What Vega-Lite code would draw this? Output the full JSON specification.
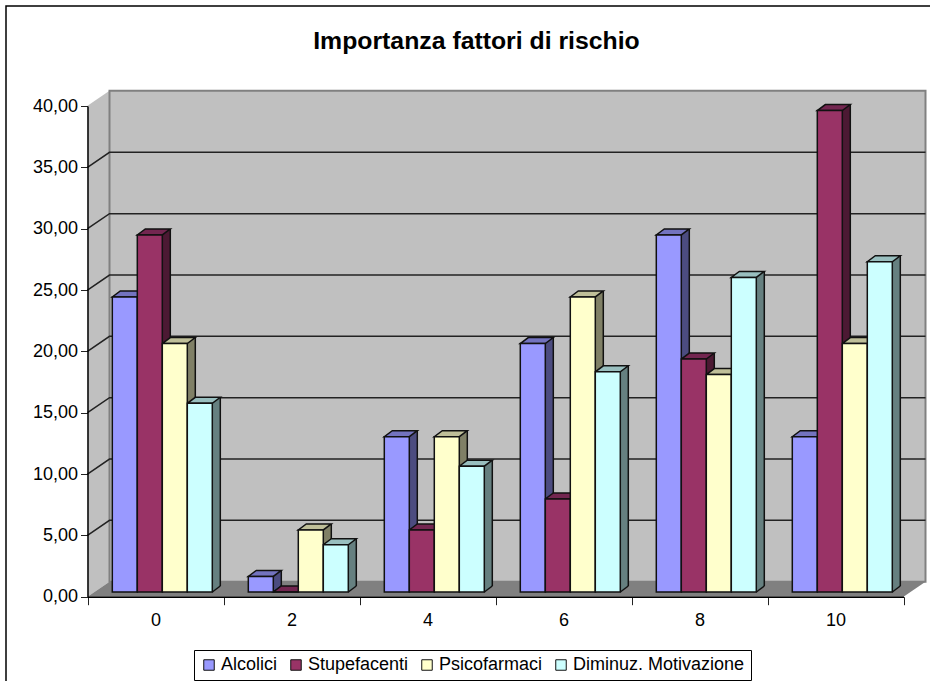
{
  "$schema": "https://vega.github.io/schema/vega-lite/v6.json",
  "width": 927,
  "height": 678,
  "autosize": "none",
  "padding": {"left": 6, "top": 6, "right": -3, "bottom": -3},
  "background": "white",
  "config": {
    "view": {"stroke": "black", "strokeWidth": 1.5},
    "font": "Liberation Sans"
  },
  "title": {
    "text": "Importanza fattori di rischio",
    "font": "Liberation Sans",
    "fontSize": 24.8,
    "fontWeight": "bold",
    "color": "black",
    "anchor": "middle",
    "offset": -48,
    "dx": 7
  },
  "datasets": {
    "rischio": [
      {"ora": "0", "fattore": "Alcolici", "valore": 24.05},
      {"ora": "0", "fattore": "Stupefacenti", "valore": 29.11},
      {"ora": "0", "fattore": "Psicofarmaci", "valore": 20.25},
      {"ora": "0", "fattore": "Diminuz. Motivazione", "valore": 15.38},
      {"ora": "2", "fattore": "Alcolici", "valore": 1.27},
      {"ora": "2", "fattore": "Stupefacenti", "valore": 0},
      {"ora": "2", "fattore": "Psicofarmaci", "valore": 5.06},
      {"ora": "2", "fattore": "Diminuz. Motivazione", "valore": 3.85},
      {"ora": "4", "fattore": "Alcolici", "valore": 12.66},
      {"ora": "4", "fattore": "Stupefacenti", "valore": 5.06},
      {"ora": "4", "fattore": "Psicofarmaci", "valore": 12.66},
      {"ora": "4", "fattore": "Diminuz. Motivazione", "valore": 10.26},
      {"ora": "6", "fattore": "Alcolici", "valore": 20.25},
      {"ora": "6", "fattore": "Stupefacenti", "valore": 7.59},
      {"ora": "6", "fattore": "Psicofarmaci", "valore": 24.05},
      {"ora": "6", "fattore": "Diminuz. Motivazione", "valore": 17.95},
      {"ora": "8", "fattore": "Alcolici", "valore": 29.11},
      {"ora": "8", "fattore": "Stupefacenti", "valore": 18.99},
      {"ora": "8", "fattore": "Psicofarmaci", "valore": 17.72},
      {"ora": "8", "fattore": "Diminuz. Motivazione", "valore": 25.64},
      {"ora": "10", "fattore": "Alcolici", "valore": 12.66},
      {"ora": "10", "fattore": "Stupefacenti", "valore": 39.24},
      {"ora": "10", "fattore": "Psicofarmaci", "valore": 20.25},
      {"ora": "10", "fattore": "Diminuz. Motivazione", "valore": 26.92}
    ],
    "griglia": [
      {"livello": 5}, {"livello": 10}, {"livello": 15}, {"livello": 20},
      {"livello": 25}, {"livello": 30}, {"livello": 35}
    ],
    "origine": [{"livello": 0}]
  },
  "data": {"name": "rischio"},
  "encoding": {
    "x": {
      "field": "ora",
      "type": "ordinal",
      "scale": {
        "domain": ["0", "2", "4", "6", "8", "10"],
        "range": [81.5, 897.5],
        "paddingInner": 0,
        "paddingOuter": 0
      },
      "axis": {
        "title": null,
        "labelAngle": 0,
        "labelFont": "Liberation Sans",
        "labelFontSize": 18,
        "labelColor": "black",
        "labelPadding": 7,
        "tickBand": "extent",
        "tickSize": 8,
        "tickColor": "#222",
        "domainColor": "black",
        "domainWidth": 1.5,
        "offset": -87.3,
        "zindex": 1
      }
    }
  },
  "layer": [
    {
      "data": {"name": "origine"},
      "mark": {"type": "point", "filled": true, "opacity": 1, "size": 4, "fill": "#C0C0C0", "shape": "M0,0L22,-15L22,-506L0,-491Z"},
      "encoding": {
        "x": {"datum": "0", "type": "ordinal", "bandPosition": 0},
        "y": {
          "field": "livello",
          "type": "quantitative",
          "scale": {"domain": [0, 40], "range": [590.7, 100], "nice": false, "zero": false},
          "axis": {
            "title": null,
            "values": [0, 5, 10, 15, 20, 25, 30, 35, 40],
            "labelExpr": "replace(format(datum.value, '.2f'), '.', ',')",
            "labelFont": "Liberation Sans",
            "labelFontSize": 18,
            "labelColor": "black",
            "labelPadding": 3,
            "tickSize": 7,
            "tickColor": "#222",
            "domainColor": "black",
            "domainWidth": 1.5,
            "grid": false,
            "offset": -81.5,
            "zindex": 1
          }
        }
      }
    },
    {
      "data": {"name": "origine"},
      "mark": {"type": "point", "filled": true, "opacity": 1, "size": 4, "fill": "#C0C0C0", "stroke": "#808080", "strokeWidth": 2, "shape": "M22,-15L838,-15L838,-506L22,-506Z"},
      "encoding": {
        "x": {"datum": "0", "type": "ordinal", "bandPosition": 0},
        "y": {"field": "livello", "type": "quantitative"}
      }
    },
    {
      "data": {"name": "origine"},
      "mark": {"type": "point", "filled": true, "opacity": 1, "size": 4, "fill": "#808080", "shape": "M0,0L22,-15L838,-15L816,0Z"},
      "encoding": {
        "x": {"datum": "0", "type": "ordinal", "bandPosition": 0},
        "y": {"field": "livello", "type": "quantitative"}
      }
    },
    {
      "data": {"name": "griglia"},
      "mark": {"type": "point", "filled": false, "opacity": 1, "size": 4, "stroke": "#222", "strokeWidth": 1.5, "shape": "M0,0L22,-15L838,-15"},
      "encoding": {
        "x": {"datum": "0", "type": "ordinal", "bandPosition": 0},
        "y": {"field": "livello", "type": "quantitative"}
      }
    },
    {
      "mark": {"type": "rule", "strokeWidth": 8, "yOffset": -10.7, "y2Offset": -10.7, "opacity": 1},
      "encoding": {
        "xOffset": {
          "field": "fattore",
          "type": "nominal",
          "scale": {"domain": ["Alcolici", "Stupefacenti", "Psicofarmaci", "Diminuz. Motivazione"], "range": [41.3, 141.3], "paddingInner": 0, "paddingOuter": 0}
        },
        "y": {"field": "valore", "type": "quantitative"},
        "y2": {"datum": 0},
        "stroke": {
          "field": "fattore",
          "type": "nominal",
          "legend": null,
          "scale": {"domain": ["Alcolici", "Stupefacenti", "Psicofarmaci", "Diminuz. Motivazione"], "range": ["#4C4C80", "#4C1933", "#808066", "#668080"]}
        }
      }
    },
    {
      "mark": {"type": "point", "filled": true, "opacity": 1, "size": 4, "yOffset": -4.7, "shape": "M25,0L33,-6L25,-6Z"},
      "encoding": {
        "xOffset": {
          "field": "fattore",
          "type": "nominal",
          "scale": {"domain": ["Alcolici", "Stupefacenti", "Psicofarmaci", "Diminuz. Motivazione"], "range": [24.8, 99.8], "padding": 0}
        },
        "y": {"datum": 0},
        "fill": {
          "field": "fattore",
          "type": "nominal",
          "legend": null,
          "scale": {"domain": ["Alcolici", "Stupefacenti", "Psicofarmaci", "Diminuz. Motivazione"], "range": ["#4C4C80", "#4C1933", "#808066", "#668080"]}
        }
      }
    },
    {
      "mark": {"type": "rule", "stroke": "#111", "strokeWidth": 1.5, "yOffset": -10.7, "y2Offset": -10.7, "opacity": 1},
      "encoding": {
        "xOffset": {
          "field": "fattore",
          "type": "nominal",
          "scale": {"domain": ["Alcolici", "Stupefacenti", "Psicofarmaci", "Diminuz. Motivazione"], "range": [45.3, 145.3], "paddingInner": 0, "paddingOuter": 0}
        },
        "y": {"field": "valore", "type": "quantitative"},
        "y2": {"datum": 0}
      }
    },
    {
      "mark": {"type": "point", "filled": false, "opacity": 1, "size": 4, "yOffset": -4.7, "stroke": "#111", "strokeWidth": 1.5, "shape": "M25,0L33,-6"},
      "encoding": {
        "xOffset": {
          "field": "fattore",
          "type": "nominal",
          "scale": {"domain": ["Alcolici", "Stupefacenti", "Psicofarmaci", "Diminuz. Motivazione"], "range": [24.8, 99.8], "padding": 0}
        },
        "y": {"datum": 0}
      }
    },
    {
      "mark": {"type": "point", "filled": true, "opacity": 1, "size": 4, "yOffset": -4.7, "stroke": "#111", "strokeWidth": 1.5, "shape": "M0,0L25,0L33,-6L8,-6Z"},
      "encoding": {
        "xOffset": {
          "field": "fattore",
          "type": "nominal",
          "scale": {"domain": ["Alcolici", "Stupefacenti", "Psicofarmaci", "Diminuz. Motivazione"], "range": [24.8, 99.8], "padding": 0}
        },
        "y": {"field": "valore", "type": "quantitative"},
        "fill": {
          "field": "fattore",
          "type": "nominal",
          "legend": null,
          "scale": {"domain": ["Alcolici", "Stupefacenti", "Psicofarmaci", "Diminuz. Motivazione"], "range": ["#7373BF", "#732650", "#BFBF99", "#99BFBF"]}
        }
      }
    },
    {
      "mark": {"type": "bar", "stroke": "#111", "strokeWidth": 1.5, "yOffset": -4.7, "y2Offset": -4.7, "opacity": 1},
      "encoding": {
        "xOffset": {
          "field": "fattore",
          "type": "nominal",
          "scale": {"domain": ["Alcolici", "Stupefacenti", "Psicofarmaci", "Diminuz. Motivazione"], "range": [24.8, 124.8], "paddingInner": 0, "paddingOuter": 0}
        },
        "y": {"field": "valore", "type": "quantitative"},
        "y2": {"datum": 0},
        "fill": {
          "field": "fattore",
          "type": "nominal",
          "scale": {"domain": ["Alcolici", "Stupefacenti", "Psicofarmaci", "Diminuz. Motivazione"], "range": ["#9999FF", "#993366", "#FFFFCC", "#CCFFFF"]},
          "legend": {
            "title": null,
            "orient": "none",
            "legendX": 188,
            "legendY": 644,
            "direction": "horizontal",
            "columns": 4,
            "symbolType": "square",
            "symbolSize": 110,
            "symbolStrokeColor": "#111",
            "symbolStrokeWidth": 1,
            "labelFont": "Liberation Sans",
            "labelFontSize": 18,
            "labelColor": "black",
            "labelOffset": 3,
            "columnPadding": 9,
            "padding": 6,
            "strokeColor": "black",
            "fillColor": "white",
            "labelLimit": 400
          }
        }
      }
    }
  ],
  "resolve": {"scale": {"fill": "independent", "xOffset": "independent"}}
}
